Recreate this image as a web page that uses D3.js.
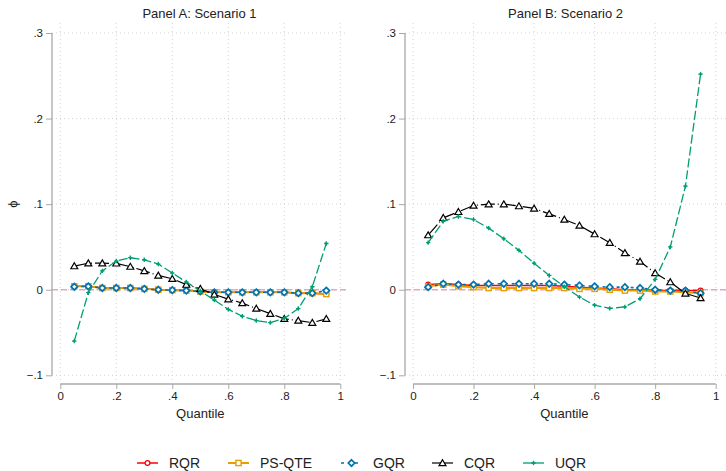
<!DOCTYPE html>
<html>
<head>
<meta charset="utf-8">
<script src="https://cdn.jsdelivr.net/npm/d3@7"></script>
<style>
  html, body { margin: 0; padding: 0; background: #fff; }
  svg { display: block; font-family: "Liberation Sans", Arial, sans-serif; }
</style>
</head>
<body>
<svg id="chart" width="726" height="471"></svg>
<script>
// Quantile grid shared by both panels
const quantiles = [0.05,0.10,0.15,0.20,0.25,0.30,0.35,0.40,0.45,0.50,0.55,0.60,0.65,0.70,0.75,0.80,0.85,0.90,0.95];

const xTicks = [0, 0.2, 0.4, 0.6, 0.8, 1];
const yTicks = [-0.1, 0, 0.1, 0.2, 0.3];
const panelTitles = ["Panel A: Scenario 1", "Panel B: Scenario 2"];
const methodNames = ["RQR", "PS-QTE", "GQR", "CQR", "UQR"];

// Panel A: Scenario 1 estimates
const rqrA   = [0.004,0.004,0.002,0.002,0.002,0.001,0.000,-0.0005,-0.001,-0.002,-0.003,-0.003,-0.003,-0.003,-0.003,-0.003,-0.004,-0.004,-0.005];
const psqteA = [0.004,0.004,0.002,0.002,0.002,0.001,0.000,-0.0005,-0.001,-0.002,-0.003,-0.003,-0.003,-0.003,-0.003,-0.003,-0.004,-0.004,-0.005];
const gqrA   = [0.0035,0.004,0.002,0.002,0.002,0.001,0.000,-0.0005,-0.001,-0.002,-0.003,-0.003,-0.003,-0.003,-0.003,-0.003,-0.004,-0.004,-0.001];
const cqrA   = [0.0276,0.031,0.031,0.0308,0.027,0.022,0.0167,0.0128,0.006,0.0012,-0.0055,-0.011,-0.0156,-0.022,-0.028,-0.034,-0.036,-0.0385,-0.034];
const uqrA   = [-0.060,-0.0035,0.022,0.0335,0.0374,0.035,0.030,0.0195,0.009,-0.0015,-0.012,-0.023,-0.031,-0.036,-0.0385,-0.0335,-0.022,0.0035,0.054];

// Panel B: Scenario 2 estimates
const rqrB   = [0.006,0.007,0.006,0.005,0.005,0.005,0.005,0.005,0.005,0.004,0.003,0.002,0.001,0.000,0.000,-0.001,-0.001,-0.001,-0.001];
const psqteB = [0.004,0.006,0.004,0.003,0.002,0.002,0.002,0.002,0.002,0.002,0.001,0.001,0.000,-0.001,-0.001,-0.002,-0.002,-0.003,-0.004];
const gqrB   = [0.003,0.007,0.006,0.006,0.007,0.007,0.007,0.007,0.007,0.006,0.005,0.004,0.003,0.003,0.002,0.000,-0.001,-0.001,-0.004];
const cqrB   = [0.0638,0.084,0.091,0.0984,0.100,0.100,0.0977,0.095,0.0887,0.082,0.075,0.065,0.055,0.043,0.033,0.0195,0.0089,-0.0043,-0.0097];
const uqrB   = [0.055,0.080,0.0856,0.082,0.072,0.0595,0.046,0.031,0.0167,0.0035,-0.0086,-0.018,-0.0218,-0.020,-0.0105,0.012,0.050,0.121,0.252];

const styles = {
  "RQR":    { color: "#ff0000", dash: null,        marker: "circle",   width: 1.5 },
  "PS-QTE": { color: "#e69f00", dash: null,        marker: "square",   width: 2.0 },
  "GQR":    { color: "#0072b2", dash: "3,4",       marker: "diamond",  width: 1.6 },
  "CQR":    { color: "#000000", dash: "14,3,1,3",  marker: "triangle", width: 1.2 },
  "UQR":    { color: "#009e73", dash: "9,3",       marker: "plus",     width: 1.3 }
};

const panels = [
  { title: panelTitles[0], series: [rqrA, psqteA, gqrA, cqrA, uqrA],
    axisX: 52, xRange: [60.3, 340.3], gridRight: 347, yTitle: "ϕ" },
  { title: panelTitles[1], series: [rqrB, psqteB, gqrB, cqrB, uqrB],
    axisX: 405, xRange: [413, 715.7], gridRight: 726, yTitle: null }
];

const svg = d3.select("#chart");
const yRange = [375.3, 33];
const axisY = 384;
const gridTop = 23;
const axisGrey = "#a8a8a8";
const textCol = "#222";

function drawMarker(g, type, cx, cy, color) {
  if (type === "circle") {
    g.append("circle").attr("cx", cx).attr("cy", cy).attr("r", 2.4)
      .attr("fill", "#fff").attr("stroke", color).attr("stroke-width", 1.2);
  } else if (type === "square") {
    g.append("rect").attr("x", cx - 2.6).attr("y", cy - 2.6).attr("width", 5.2).attr("height", 5.2)
      .attr("fill", "#fff").attr("stroke", color).attr("stroke-width", 1.4);
  } else if (type === "diamond") {
    const s = 3.2;
    g.append("path").attr("d", `M${cx},${cy - s}L${cx + s},${cy}L${cx},${cy + s}L${cx - s},${cy}Z`)
      .attr("fill", "#fff").attr("stroke", color).attr("stroke-width", 1.7);
  } else if (type === "triangle") {
    const s = 3.3;
    g.append("path").attr("d", `M${cx},${cy - s}L${cx + s * 1.05},${cy + s * 0.8}L${cx - s * 1.05},${cy + s * 0.8}Z`)
      .attr("fill", "#fff").attr("stroke", color).attr("stroke-width", 1.2);
  } else if (type === "plus") {
    const s = 2.2;
    g.append("path").attr("d", `M${cx - s},${cy}H${cx + s}M${cx},${cy - s}V${cy + s}`)
      .attr("stroke", color).attr("stroke-width", 1.3);
    g.append("circle").attr("cx", cx).attr("cy", cy).attr("r", 1.2).attr("fill", color);
  }
}

panels.forEach(p => {
  const x = d3.scaleLinear().domain([0, 1]).range(p.xRange);
  const y = d3.scaleLinear().domain([-0.1, 0.3]).range(yRange);
  const g = svg.append("g");

  // dotted grid
  g.selectAll(".gy").data(yTicks).join("line")
    .attr("x1", p.axisX).attr("x2", p.gridRight)
    .attr("y1", d => y(d)).attr("y2", d => y(d))
    .attr("stroke", "#d4d4d4").attr("stroke-width", 1).attr("stroke-dasharray", "1,3");
  g.selectAll(".gx").data(xTicks).join("line")
    .attr("x1", d => x(d)).attr("x2", d => x(d))
    .attr("y1", gridTop).attr("y2", axisY - 3)
    .attr("stroke", "#d4d4d4").attr("stroke-width", 1).attr("stroke-dasharray", "1,3");

  // zero reference line
  g.append("line").attr("x1", p.axisX).attr("x2", p.gridRight)
    .attr("y1", y(0)).attr("y2", y(0))
    .attr("stroke", "#e3a6c4").attr("stroke-width", 1.5).attr("stroke-dasharray", "6,3");

  // y axis
  const yAxis = d3.axisLeft(y).tickValues(yTicks).tickSize(6).tickPadding(3)
    .tickFormat(d => d === 0 ? "0" : d3.format(".1f")(d).replace("0.", "."));
  const ya = g.append("g").attr("transform", `translate(${p.axisX},0)`).call(yAxis);
  ya.select(".domain").attr("d", `M-0,${y(-0.1)}V${y(0.3)}`).attr("stroke", axisGrey).attr("stroke-width", 1.3);
  ya.selectAll(".tick line").attr("stroke", axisGrey);
  ya.selectAll(".tick text").attr("fill", textCol).style("font-size", "11.5px")
    .style("font-family", "'Liberation Sans', Arial, sans-serif");

  // x axis
  const xAxis = d3.axisBottom(x).tickValues(xTicks).tickSize(5).tickPadding(3)
    .tickFormat(d => (d === 0 || d === 1) ? String(d) : d3.format(".1f")(d).replace("0.", "."));
  const xa = g.append("g").attr("transform", `translate(0,${axisY})`).call(xAxis);
  xa.select(".domain").attr("d", `M${x(0)},0H${x(1)}`).attr("stroke", axisGrey).attr("stroke-width", 1.3);
  xa.selectAll(".tick line").attr("stroke", axisGrey);
  xa.selectAll(".tick text").attr("fill", textCol).style("font-size", "11.5px")
    .style("font-family", "'Liberation Sans', Arial, sans-serif");

  // titles
  const cx = (p.axisX + p.gridRight) / 2;
  g.append("text").attr("x", cx).attr("y", 18).attr("text-anchor", "middle")
    .attr("fill", textCol).style("font-size", "13px").text(p.title);
  g.append("text").attr("x", (x(0) + x(1)) / 2).attr("y", 418).attr("text-anchor", "middle")
    .attr("fill", textCol).style("font-size", "13px").text("Quantile");
  if (p.yTitle) {
    g.append("text").attr("transform", `translate(17,${y(0.1)}) rotate(-90)`)
      .attr("text-anchor", "middle").attr("fill", textCol).style("font-size", "13px").text(p.yTitle);
  }

  // series
  const line = d3.line().x((d, i) => x(quantiles[i])).y(d => y(d));
  p.series.forEach((vals, k) => {
    const st = styles[methodNames[k]];
    const sg = g.append("g");
    sg.append("path").datum(vals).attr("d", line)
      .attr("fill", "none").attr("stroke", st.color).attr("stroke-width", st.width)
      .attr("stroke-dasharray", st.dash);
    vals.forEach((v, i) => drawMarker(sg, st.marker, x(quantiles[i]), y(v), st.color));
  });
});

// legend
const legendX = [137, 228, 341, 432, 523];
const legendY = 463;
const lg = svg.append("g");
methodNames.forEach((name, i) => {
  const st = styles[name];
  const x0 = legendX[i];
  lg.append("line").attr("x1", x0).attr("x2", x0 + 21).attr("y1", legendY).attr("y2", legendY)
    .attr("stroke", st.color).attr("stroke-width", st.width).attr("stroke-dasharray", name === "GQR" ? "3,4" : null);
  drawMarker(lg, st.marker, x0 + 10.5, legendY, st.color);
  lg.append("text").attr("x", x0 + 32).attr("y", legendY + 5).attr("fill", textCol)
    .style("font-size", "14px").text(name);
});
</script>
</body>
</html>
